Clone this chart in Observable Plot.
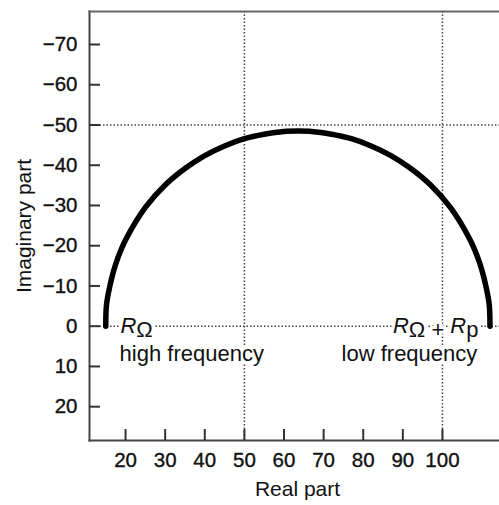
<!DOCTYPE html>
<html><head><meta charset="utf-8">
<script src="https://cdn.jsdelivr.net/npm/d3@7"></script>
<script src="https://cdn.jsdelivr.net/npm/@observablehq/plot@0.6"></script>
<style>body{margin:0;background:#fff} svg{display:block}</style>
</head><body><div id="chart"></div>
<script>
const realPart = [15, 15.2, 16, 17, 18, 20, 25, 30, 35, 40, 45, 50, 55, 60, 63.5, 67, 72, 77, 82, 87, 92, 97, 102, 107, 109, 110, 111, 111.8, 112];
const imagPart = [0, -5.4, -9.8, -13.8, -16.8, -21.4, -29.5, -35.1, -39.2, -42.4, -44.8, -46.6, -47.7, -48.4, -48.5, -48.4, -47.7, -46.6, -44.8, -42.4, -39.2, -35.1, -29.5, -21.4, -16.8, -13.8, -9.8, -5.4, 0];
const xTicks = [20, 30, 40, 50, 60, 70, 80, 90, 100];
const yTicks = [-70, -60, -50, -40, -30, -20, -10, 0, 10, 20];
const gridX = [50, 100];
const gridY = [-50, 0];
const labelText = ["RΩ", "high frequency", "RΩ + Rp", "low frequency"];
const labelX = [18.7, 18.5, 109.1, 108.8];
const labelY = [0, 6.9, 0, 6.9];
const labelAnchor = ["start", "start", "end", "end"];

const curve = realPart.map((x, i) => ({x, y: imagPart[i]}));
const labels = labelText.map((t, i) => ({t, x: labelX[i], y: labelY[i], a: labelAnchor[i]}));
const tickFont = "'Liberation Sans Narrow', 'Arial Narrow', 'Liberation Sans', Arial, sans-serif";
const textFont = "'Liberation Sans', Arial, Helvetica, sans-serif";

const chart = Plot.plot({
  width: 499, height: 505,
  marginLeft: 89, marginRight: 0, marginTop: 11, marginBottom: 65,
  x: {domain: [10.9, 114.4]},
  y: {domain: [28.4, -78.2]},
  marks: [
    Plot.ruleX(gridX, {stroke: "#444", strokeWidth: 1.5, strokeDasharray: "1.5,2"}),
    Plot.ruleY(gridY, {stroke: "#444", strokeWidth: 1.5, strokeDasharray: "1.5,2"}),
    Plot.line(curve, {x: "x", y: "y", curve: "catmull-rom", stroke: "#000", strokeWidth: 5.5}),
    Plot.text(labels.filter(d => d.a === "start"), {x: "x", y: "y", text: "t", textAnchor: "start", fontSize: 22, fontFamily: textFont, fill: "#111", stroke: "white", strokeWidth: 6}),
    Plot.text(labels.filter(d => d.a === "end"), {x: "x", y: "y", text: "t", textAnchor: "end", fontSize: 22, fontFamily: textFont, fill: "#111", stroke: "white", strokeWidth: 6}),
    Plot.frame({anchor: "left", stroke: "#444", strokeWidth: 2}),
    Plot.frame({anchor: "bottom", stroke: "#444", strokeWidth: 2}),
    Plot.frame({anchor: "top", stroke: "#666", strokeWidth: 2}),
    Plot.axisX(xTicks, {tickSize: -11, tickPadding: 23, strokeWidth: 2, stroke: "#333", fontSize: 20.5, fontFamily: tickFont, fill: "#111", label: null}),
    Plot.axisY(yTicks, {tickSize: -11, tickPadding: 23, strokeWidth: 2, stroke: "#333", fontSize: 20.5, fontFamily: tickFont, fill: "#111", label: null}),
    Plot.text(["Real part"], {frameAnchor: "bottom", textAnchor: "middle", dy: 55, dx: 3, fontSize: 21, fontFamily: textFont, fill: "#111"}),
    Plot.text(["Imaginary part"], {frameAnchor: "left", textAnchor: "middle", rotate: -90, dx: -65, fontSize: 21, fontFamily: textFont, fill: "#111"})
  ]
});
document.getElementById("chart").appendChild(chart);

d3.select(chart).selectAll("g[aria-label='x-axis tick label'], g[aria-label='y-axis tick label']")
  .attr("stroke", "#111").attr("stroke-width", 0.35);

d3.select(chart).selectAll("text").each(function() {
  const s = d3.select(this);
  const t = this.textContent;
  if (t === "RΩ") {
    s.text(null);
    s.append("tspan").attr("font-style", "italic").text("R");
    s.append("tspan").attr("dy", 4).text("Ω");
  } else if (t === "RΩ + Rp") {
    s.text(null);
    s.append("tspan").attr("font-style", "italic").text("R");
    s.append("tspan").attr("dy", 4).text("Ω + ");
    s.append("tspan").attr("dy", -4).attr("font-style", "italic").text("R");
    s.append("tspan").attr("dy", 4).text("p");
  }
});
</script>
</body></html>
